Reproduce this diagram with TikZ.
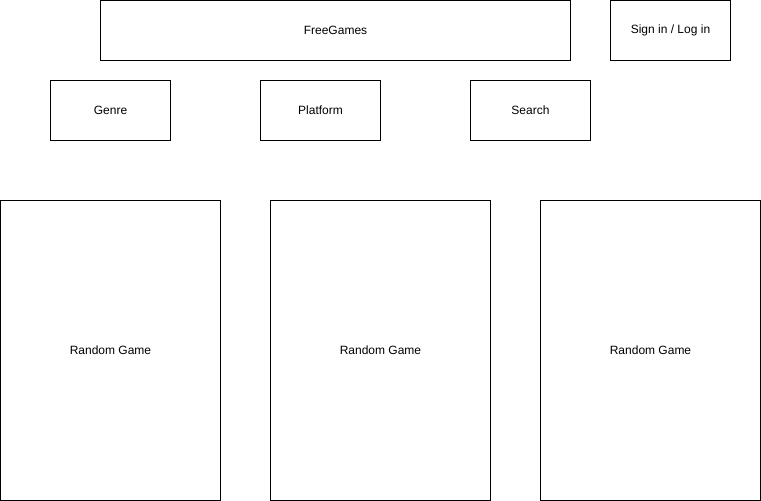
\documentclass[tikz,border=0pt]{standalone}
\usepackage{fontspec}
\setmainfont{Liberation Sans}
\tikzset{
    box/.style={draw,line width=1pt,inner sep=0pt,font=\fontsize{12}{14}\selectfont}
}
\begin{document}
\begin{tikzpicture}[x=1pt,y=-1pt]
\useasboundingbox (0,0) rectangle (761,501);
\begin{scope}[shift={(0.5,0.5)}]
    \node[box,minimum width=470pt,minimum height=60pt] (title) at (335,30) {FreeGames};
    \node[box,minimum width=120pt,minimum height=60pt] (login) at (670,30) {Sign in / Log in};

    \node[box,minimum width=120pt,minimum height=60pt] (genre) at (110,110) {Genre};
    \node[box,minimum width=120pt,minimum height=60pt] (platform) at (320,110) {Platform};
    \node[box,minimum width=120pt,minimum height=60pt] (search) at (530,110) {Search};

    \foreach \x/\n in {110/a,380/b,650/c}
    {
        \node[box,minimum width=220pt,minimum height=300pt] (game\n) at (\x,350) {Random Game};
    }
\end{scope}
\end{tikzpicture}
\end{document}
